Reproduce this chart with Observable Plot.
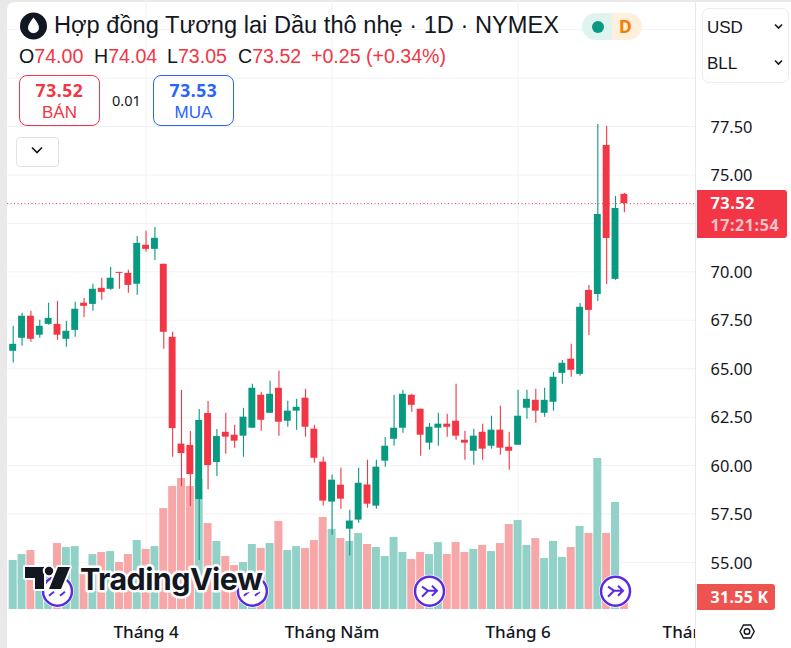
<!DOCTYPE html>
<html lang="vi"><head><meta charset="utf-8">
<script src="https://cdn.jsdelivr.net/npm/d3@7"></script>
<script src="https://cdn.jsdelivr.net/npm/@observablehq/plot@0.6"></script>
<style>
html,body{margin:0;padding:0}
body{width:791px;height:648px;overflow:hidden;background:#e9e9e9;position:relative;font-family:"Liberation Sans",Arial,sans-serif}
#card{position:absolute;left:7px;top:2px;width:784px;height:646px;background:#fff;border-top-left-radius:8px}
#chart{position:absolute;left:0;top:0}
.a{position:absolute;white-space:nowrap;line-height:1!important}
.box{position:absolute;box-sizing:border-box;width:81px;height:51px;border-radius:8px;border:1px solid;text-align:center}
.box b{position:absolute;left:0;right:0;top:6px;font:700 17.5px/1 "Noto Sans",sans-serif;letter-spacing:.6px}
.box span{position:absolute;left:0;right:0;top:28px;font-size:17px;line-height:1}
.k{color:#131722}.r{color:#F23645}
svg.ov{position:absolute;left:0;top:0;pointer-events:none}
</style></head><body>
<div id="card"></div>
<div id="chart"></div>
<svg class="ov" width="791" height="648" id="ov"></svg>
<svg class="ov" width="791" height="648">
 <circle cx="33.5" cy="26" r="13.5" fill="#131722"/>
 <path d="M33.5 17.5c3 4 5.5 7 5.5 10.2a5.5 5.5 0 0 1-11 0c0-3.2 2.500-6.200 5.500-10.200z" fill="#fff"/>
 <path d="M32 147.500l5 5 5-5" fill="none" stroke="#131722" stroke-width="1.700"/>
 <path d="M775 24.500l3.500 3.500 3.500-3.500M775 60.500l3.500 3.500 3.500-3.500" fill="none" stroke="#131722" stroke-width="1.600"/>
 <path d="M740 631.500l3.500-6.500h7.200l3.500 6.500-3.500 6.500h-7.200z" fill="none" stroke="#131722" stroke-width="1.400"/>
 <circle cx="747" cy="631.500" r="2.800" fill="none" stroke="#131722" stroke-width="1.400"/>
</svg>
<div class="a k" id="ttl" style="left:54px;top:14px;font-size:23.65px">Hợp đồng Tương lai Dầu thô nhẹ · 1D · NYMEX</div>
<div class="a" style="left:19px;top:47px;font-size:19.6px"><span class="k">O</span><span class="r">74.00</span></div>
<div class="a" style="left:94px;top:47px;font-size:19.6px"><span class="k">H</span><span class="r">74.04</span></div>
<div class="a" style="left:167px;top:47px;font-size:19.6px"><span class="k">L</span><span class="r">73.05</span></div>
<div class="a" style="left:238px;top:47px;font-size:19.6px"><span class="k">C</span><span class="r">73.52</span></div>
<div class="a r" style="left:311px;top:47px;font-size:19.6px">+0.25 (+0.34%)</div>
<div class="box" style="left:19px;top:75px;border-color:#F23645;color:#F23645"><b>73.52</b><span>BÁN</span></div>
<div class="a k" style="left:112px;top:93px;font:14.5px 'Noto Sans',sans-serif">0.01</div>
<div class="box" style="left:153px;top:75px;border-color:#2962FF;color:#2962FF"><b>73.53</b><span>MUA</span></div>
<div class="a" style="left:16px;top:137px;width:41px;height:28px;border:1px solid #e0e3eb;border-radius:4px"></div>
<div class="a" style="left:582px;top:13px;width:30px;height:27px;background:#dff3ef;border-radius:14px 0 0 14px"></div>
<div class="a" style="left:612px;top:13px;width:30px;height:27px;background:#fef0dd;border-radius:0 14px 14px 0"></div>
<div class="a" style="left:592px;top:20.500px;width:12px;height:12px;background:#089981;border-radius:50%"></div>
<div class="a" style="left:619px;top:17.500px;font:700 17.500px 'Noto Sans',sans-serif;color:#F57C00">D</div>
<div class="a" style="left:702px;top:8px;width:85px;height:73px;border:1px solid #ececec;border-radius:7px"></div>
<div class="a k" style="left:707px;top:18.500px;font-size:17px">USD</div>
<div class="a k" style="left:707px;top:54.500px;font-size:17px">BLL</div>
<div class="a" style="left:697px;top:190px;width:90px;height:48px;background:#F23645;border-radius:0 3px 3px 0"></div>
<div class="a" style="left:710.500px;top:195px;font:700 16.500px 'Noto Sans',sans-serif;color:#fff;letter-spacing:.4px">73.52</div>
<div class="a" style="left:710.500px;top:217px;font:700 16px 'Noto Sans',sans-serif;color:#fcc2c7;letter-spacing:.6px">17:21:54</div>
<div class="a" style="left:697px;top:584px;width:78px;height:26px;background:#EF5350;border-radius:0 3px 3px 0"></div>
<div class="a" style="left:710.500px;top:589px;font:700 16px 'Noto Sans',sans-serif;color:#fff;letter-spacing:.3px">31.55 K</div>
<svg class="ov" width="791" height="648">
 <g fill="#131722" stroke="#fff" stroke-width="4" paint-order="stroke" stroke-linejoin="round">
  <path d="M25 567H44V589H35V578H25z"/>
  <circle cx="49" cy="571" r="4.200"/>
  <path d="M58 567H70L61 589H49z"/>
  <text x="80" y="590" font-family="Inter" font-weight="700" font-size="30.500" letter-spacing="-.6" stroke-width="5">TradingView</text>
 </g>
</svg>
<script>
const opens=[65.90,66.57,67.71,66.73,67.29,67.29,66.52,66.98,68.38,68.32,69.15,69.10,69.97,69.92,69.36,71.37,71.16,70.39,66.62,61.11,61.04,58.25,62.69,60.16,61.72,61.57,61.52,61.93,63.63,62.70,63.99,62.29,62.81,63.48,61.88,60.18,58.12,58.99,56.72,57.19,59.00,57.91,60.23,61.36,61.93,63.63,62.91,61.16,61.93,62.14,62.29,61.31,60.74,61.72,61.00,61.83,60.95,61.05,62.96,63.37,62.70,63.27,64.76,65.49,64.71,69.04,68.83,76.52,69.61,74.00];
const highs=[67.19,67.86,67.96,67.50,68.38,68.48,67.45,68.43,68.63,69.36,69.67,70.23,69.97,70.08,71.83,72.09,72.29,70.39,66.88,63.88,61.76,62.90,63.31,61.86,62.70,62.08,62.96,64.20,63.78,64.35,64.87,63.32,63.42,63.94,62.08,60.43,59.51,59.87,57.70,59.87,60.28,60.28,61.45,63.63,63.89,63.68,62.91,62.17,62.70,62.65,64.20,61.77,61.88,62.14,62.55,63.06,61.72,63.89,63.89,63.94,63.99,64.82,65.43,66.26,68.37,69.30,77.60,77.50,73.89,74.04];
const lows=[65.30,66.16,66.37,66.57,67.24,66.47,66.11,66.62,67.65,67.96,68.53,69.05,69.10,68.89,68.79,71.01,70.59,66.00,60.43,58.92,57.89,55.10,58.76,59.44,60.59,60.90,60.43,61.93,61.77,62.70,61.52,61.98,61.83,61.47,60.13,57.91,56.41,57.75,55.33,57.03,57.80,57.75,59.92,61.00,61.67,62.75,60.49,60.80,61.00,61.47,61.31,60.28,60.02,60.28,60.85,60.54,59.76,61.05,62.39,62.19,62.50,62.81,64.20,64.56,64.61,66.72,68.47,69.35,69.56,73.05];
const closes=[66.26,67.71,66.52,67.19,67.60,66.73,66.93,68.07,68.22,69.10,68.94,69.67,69.92,69.30,71.47,71.16,71.73,66.88,61.91,60.62,59.54,62.33,60.00,61.50,61.47,61.26,62.50,63.99,62.34,63.68,62.24,62.81,63.01,61.98,60.38,58.17,59.25,58.27,57.14,59.09,58.01,59.92,61.00,61.93,63.68,63.11,61.57,61.98,62.14,61.98,61.52,61.16,61.52,60.85,61.83,60.90,60.74,62.55,63.42,62.81,63.37,64.56,65.28,64.92,68.17,68.01,72.96,71.72,73.27,73.52];
const volumesK=[258,289,310,200,200,347,326,331,184,289,300,305,247,289,363,316,331,531,647,689,647,684,452,358,279,231,247,342,321,347,463,310,331,321,363,484,421,373,358,400,342,326,279,379,300,263,300,289,352,289,352,300,316,337,305,347,447,468,337,373,268,358,274,326,437,400,794,400,563,31.55];
const gridPrices=[55,57.5,60,62.5,65,67.5,70,72.5,75,77.5,80,82.5];
const axisPrices=[55,57.5,60,62.5,65,67.5,70,75,77.5];
const monthIdx=[15,36,57,77];
const monthLabels=["Tháng 4","Tháng Năm","Tháng 6","Tháng 7"];
const eventIdx=[5,27,47,68];
const lastPrice=73.52;

const green="#089981",red="#F23645";
const candles=opens.map((o,i)=>({i,o,h:highs[i],l:lows[i],c:closes[i],v:volumesK[i],
  col:closes[i]>=o?green:red,vcol:closes[i]>=o?"#92d1c8":"#f7a7a7"}));
const volBase=52.575,volK=0.00981;
const evY=53.52;
const plot=Plot.plot({
  width:791,height:648,marginLeft:7,marginRight:96,marginTop:0,marginBottom:35,
  style:{background:"transparent",overflow:"visible"},
  x:{domain:[-0.6436,77.03],axis:null},
  y:{domain:[52.369,84.002],axis:null},
  marks:[
    Plot.ruleY(gridPrices,{stroke:"#f1f2f4",strokeWidth:1}),
    Plot.ruleX(monthIdx.slice(0,3),{stroke:"#f1f2f4",strokeWidth:1}),
    Plot.rectY(candles,{x1:d=>d.i-.45,x2:d=>d.i+.45,y1:volBase,y2:d=>volBase+d.v*volK,fill:"vcol"}),
    Plot.ruleY([lastPrice],{stroke:red,strokeWidth:1,strokeDasharray:"1,2.500"}),
    Plot.ruleX(candles,{x:"i",y1:"l",y2:"h",stroke:"col",strokeWidth:1.100}),
    Plot.rectY(candles,{x1:d=>d.i-.39,x2:d=>d.i+.39,y1:"o",y2:"c",fill:"col"}),
    Plot.dot(eventIdx,{x:d=>d,y:evY,r:16.500,fill:"#fff",fillOpacity:.9}),
    Plot.dot(eventIdx,{x:d=>d,y:evY,r:14.500,fill:"#fff",stroke:"#5B2BE0",strokeWidth:2.500}),
    Plot.axisY(axisPrices,{anchor:"right",label:null,tickSize:0,tickPadding:15,dy:0.8,tickFormat:d=>d.toFixed(2),fontSize:16.4,fontFamily:"Noto Sans",fill:"#131722"}),
    Plot.axisX(monthIdx,{anchor:"bottom",label:null,tickSize:0,tickPadding:12,tickFormat:d=>monthLabels[monthIdx.indexOf(d)],fontSize:17,fontFamily:"Noto Sans",fontWeight:500,fill:"#131722"}),
    Plot.ruleX([77.03],{y1:52.369-2,y2:84.002,stroke:"#e8e9ec",strokeWidth:1})
  ]
});
document.getElementById("chart").append(plot);
// clip the month labels at the price pane's edge
const ns="http://www.w3.org/2000/svg";
const cp=document.createElementNS(ns,"clipPath");cp.id="pane";
const cr=document.createElementNS(ns,"rect");cr.setAttribute("x",-100);cr.setAttribute("y",-2000);cr.setAttribute("width",794.5);cr.setAttribute("height",5000);
cp.append(cr);plot.append(cp);
plot.querySelectorAll('[aria-label="x-axis tick label"]').forEach(g=>g.setAttribute("clip-path","url(#pane)"));
// glyphs inside the event badges
const ov=document.getElementById("ov"),sx=plot.scale("x"),sy=plot.scale("y");
eventIdx.forEach((e,k)=>{
  const g=document.createElementNS(ns,"path");
  g.setAttribute("transform",`translate(${sx.apply(e)},${sy.apply(evY)})`);
  g.setAttribute("d",k<2?"M-8 5L-3 1M3 5L8 1":"M-7 -4L-1 0H8M-7 6L-1 0M3 -5L8 0L3 5");
  g.setAttribute("fill","none");g.setAttribute("stroke","#5B2BE0");g.setAttribute("stroke-width","2");
  ov.append(g);
});
</script>
</body></html>
